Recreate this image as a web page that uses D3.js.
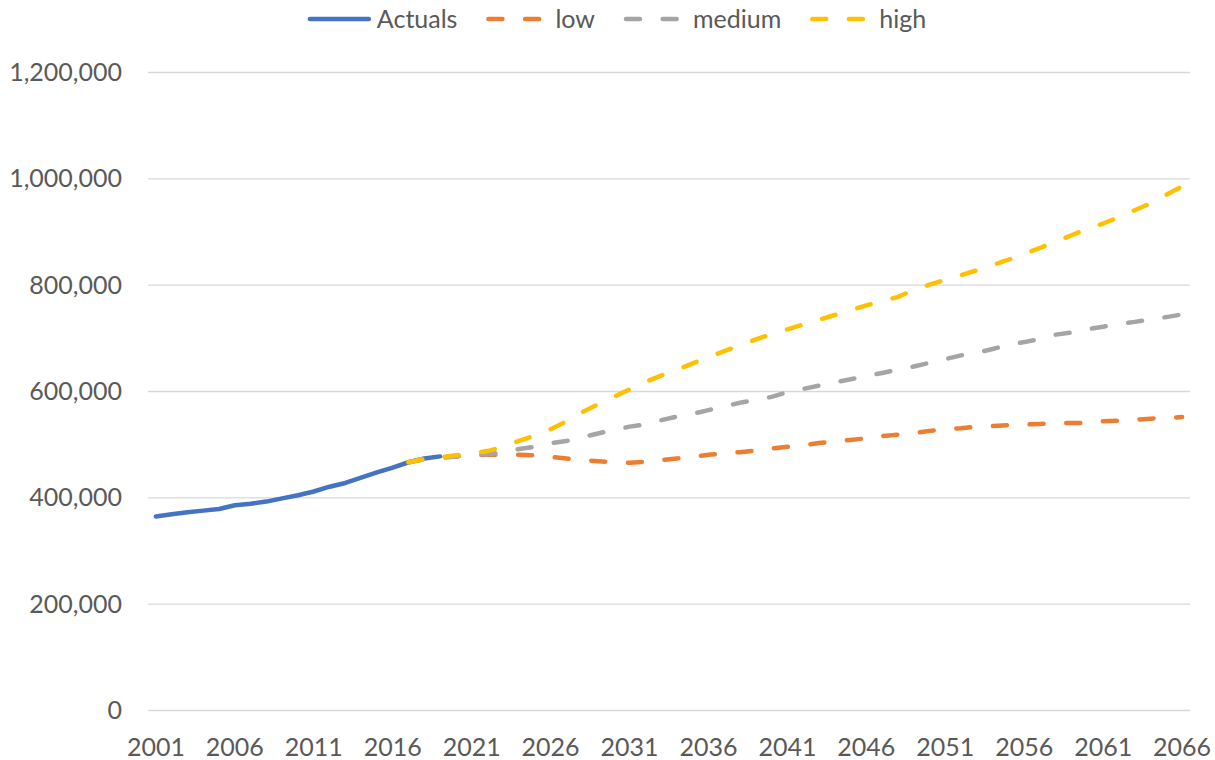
<!DOCTYPE html>
<html>
<head>
<meta charset="utf-8">
<script src="https://cdn.jsdelivr.net/npm/d3@7"></script>
<style>
  body { margin: 0; background: #fff; }
  text { font-family: Lato, "Open Sans", sans-serif; fill: #595959; }
</style>
</head>
<body>
<div id="chart"></div>
<script>
// categories
var years = d3.range(2001, 2067);
var xTickYears = [2001, 2006, 2011, 2016, 2021, 2026, 2031, 2036, 2041, 2046, 2051, 2056, 2061, 2066];
var yTicks = [0, 200000, 400000, 600000, 800000, 1000000, 1200000];

// actuals, 2001-2019 (thousands)
var actualsStart = 2001;
var actuals = [364, 368, 372, 375, 378, 385, 388, 392, 398, 404, 411, 420, 427, 437, 447, 456, 466, 473, 477];

// projections, 2017-2066 (thousands)
var projStart = 2017;
var low = [466, 472, 475, 477, 479, 480, 480, 480, 479, 476, 473, 470, 468, 466, 465, 467, 470, 473, 476, 480,
           483, 485, 488, 492, 495, 498, 502, 505, 508, 511, 515, 518, 521, 525, 528, 530, 533, 534, 536, 537,
           538, 539, 540, 540, 543, 544, 546, 548, 549, 551];
var medium = [466, 472, 475, 477, 480, 481, 485, 491, 495, 502, 506, 513, 520, 527, 533, 537, 545, 552, 557, 564,
              571, 578, 583, 589, 598, 604, 610, 616, 622, 628, 634, 640, 646, 653, 660, 667, 672, 679, 687, 692,
              698, 706, 710, 716, 721, 726, 730, 735, 739, 744];
var high = [466, 472, 475, 479, 483, 487, 495, 506, 516, 528, 543, 560, 575, 589, 603, 617, 629, 640, 652, 664,
            675, 686, 697, 707, 716, 725, 734, 743, 752, 761, 769, 777, 790, 800, 809, 818, 827, 837, 847, 858,
            869, 881, 893, 905, 915, 927, 940, 953, 969, 985];

var seriesColors = ["#4472C4", "#ED7D31", "#A5A5A5", "#FFC000"];

function toPoints(values, start) {
    return values.map(function (v, i) { return {year: start + i, value: v * 1000}; });
}

var series = [
    {name: "Actuals", points: toPoints(actuals, actualsStart), dashed: false},
    {name: "low", points: toPoints(low, projStart), dashed: true},
    {name: "medium", points: toPoints(medium, projStart), dashed: true},
    {name: "high", points: toPoints(high, projStart), dashed: true}
];

var W = 1215, H = 760;
var margin = {top: 72, right: 25, bottom: 50, left: 148};
var width = W - margin.left - margin.right,
    height = H - margin.top - margin.bottom;

var dash = "14,22.7";
var fontSize = "25px";

var svg = d3.select("#chart").append("svg")
    .attr("width", W)
    .attr("height", H);

var g = svg.append("g")
    .attr("transform", "translate(" + margin.left + "," + margin.top + ")");

var x = d3.scalePoint()
    .domain(years)
    .range([0, width])
    .padding(0.5);

var y = d3.scaleLinear()
    .domain([0, 1200000])
    .range([height, 0]);

// gridlines
g.append("g")
    .selectAll("line")
    .data(yTicks)
    .join("line")
    .attr("x1", 0)
    .attr("x2", width)
    .attr("y1", function (d) { return y(d) + 0.5; })
    .attr("y2", function (d) { return y(d) + 0.5; })
    .attr("stroke", "#d9d9d9")
    .attr("stroke-width", 1.3);

// y labels
var fmt = d3.format(",");
g.append("g")
    .selectAll("text")
    .data(yTicks)
    .join("text")
    .attr("x", -26)
    .attr("y", function (d) { return y(d); })
    .attr("dy", "0.36em")
    .attr("text-anchor", "end")
    .attr("font-size", fontSize)
    .text(function (d) { return fmt(d); });

// x labels
g.append("g")
    .selectAll("text")
    .data(xTickYears)
    .join("text")
    .attr("x", function (d) { return x(d); })
    .attr("y", height + 46)
    .attr("text-anchor", "middle")
    .attr("font-size", fontSize)
    .text(function (d) { return d; });

// lines
var line = d3.line()
    .x(function (d) { return x(d.year); })
    .y(function (d) { return y(d.value); });

g.append("g")
    .selectAll("path")
    .data(series)
    .join("path")
    .attr("d", function (d) { return line(d.points); })
    .attr("fill", "none")
    .attr("stroke", function (d, i) { return seriesColors[i]; })
    .attr("stroke-width", 4.5)
    .attr("stroke-linejoin", "round")
    .attr("stroke-linecap", "round")
    .attr("stroke-dasharray", function (d) { return d.dashed ? dash : null; });

// legend
var legend = svg.append("g");
var cursor = 0;
series.forEach(function (s, i) {
    var item = legend.append("g").attr("transform", "translate(" + cursor + ",0)");
    item.append("line")
        .attr("x1", 2)
        .attr("x2", 2 + (s.dashed ? 52 : 59))
        .attr("y1", 0)
        .attr("y2", 0)
        .attr("stroke", seriesColors[i])
        .attr("stroke-width", 4.5)
        .attr("stroke-linecap", "round")
        .attr("stroke-dasharray", s.dashed ? dash : null);
    var t = item.append("text")
        .attr("x", 69)
        .attr("y", 0)
        .attr("dy", "0.36em")
        .attr("font-size", fontSize)
        .text(s.name);
    cursor += 69 + t.node().getComputedTextLength() + 29;
});
var legendWidth = cursor - 29;
legend.attr("transform", "translate(" + (617 - legendWidth / 2) + ",19)");
</script>
</body>
</html>
